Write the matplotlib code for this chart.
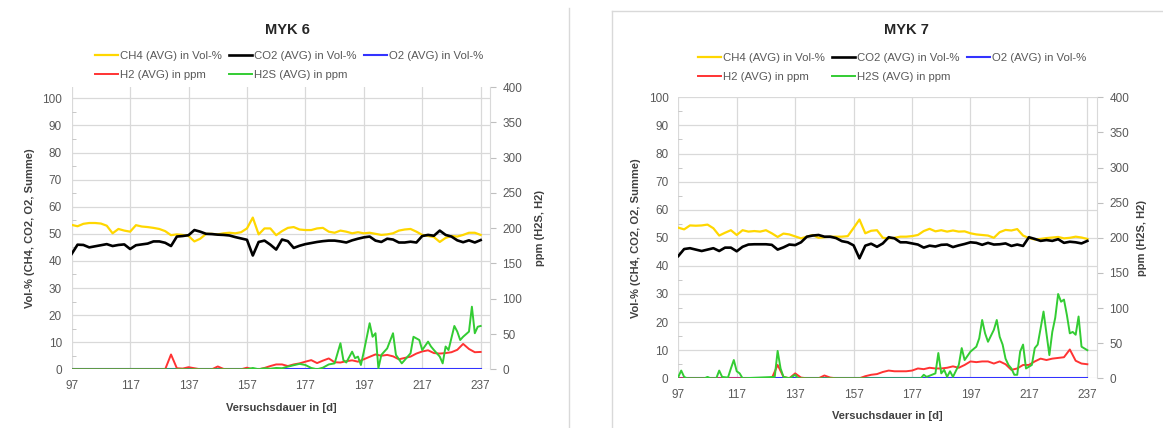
import matplotlib
matplotlib.use("Agg")
import matplotlib.pyplot as plt
from matplotlib.lines import Line2D

W, H = 1163, 428
plt.rcParams['font.family'] = ['Liberation Sans', 'DejaVu Sans']

# ---------------- data ----------------
days = list(range(97, 238, 2))
x_ticks = [97, 117, 137, 157, 177, 197, 217, 237]

series_labels = ["CH4 (AVG) in Vol-%", "CO2 (AVG) in Vol-%", "O2 (AVG) in Vol-%",
                 "H2 (AVG) in ppm", "H2S (AVG) in ppm"]

# MYK 6
myk6_ch4 = [53.3, 52.8, 53.7, 54.0, 54.0, 53.8, 53.0, 50.2, 51.8, 51.2,
            50.8, 53.2, 52.7, 52.5, 52.2, 51.8, 51.0, 49.5, 49.8, 49.6,
            49.2, 47.2, 48.2, 50.0, 50.0, 49.8, 50.2, 50.4, 50.2, 50.6,
            52.0, 56.0, 49.8, 52.0, 52.0, 49.5, 51.0, 52.2, 52.5, 51.6,
            51.4, 51.4, 52.0, 52.2, 50.8, 50.4, 51.2, 50.8, 50.2, 50.6,
            50.2, 50.4, 50.0, 49.6, 49.8, 50.2, 51.2, 51.6, 51.8, 50.8,
            49.6, 49.2, 48.8, 47.0, 48.5, 49.2, 49.0, 49.6, 50.4, 50.4,
            49.6]
myk6_co2 = [42.6, 46.0, 45.9, 45.0, 45.4, 45.8, 46.2, 45.5, 45.9, 46.1,
            44.4, 45.8, 46.1, 46.4, 47.2, 47.2, 46.7, 45.5, 49.0, 49.2,
            49.5, 51.4, 50.8, 50.0, 49.9, 49.7, 49.6, 49.4, 48.8, 48.3,
            47.8, 42.0, 47.0, 47.5, 46.0, 44.2, 47.9, 47.3, 44.8, 45.6,
            46.2, 46.6, 47.0, 47.3, 47.5, 47.5, 47.2, 46.8, 47.6, 48.2,
            48.7, 49.0, 47.5, 47.0, 48.2, 47.9, 46.8, 46.8, 47.1, 46.8,
            49.2, 49.6, 49.3, 51.2, 49.6, 49.0, 47.6, 46.9, 47.6, 46.8,
            47.7]
myk6_o2 = [0.2, 0.2, 0.2, 0.2, 0.2, 0.2, 0.2, 0.2, 0.2, 0.2,
           0.2, 0.2, 0.2, 0.2, 0.2, 0.2, 0.2, 0.2, 0.2, 0.2,
           0.2, 0.2, 0.2, 0.2, 0.2, 0.2, 0.2, 0.2, 0.2, 0.2,
           0.2, 0.2, 0.2, 0.2, 0.2, 0.2, 0.2, 0.2, 0.2, 0.2,
           0.2, 0.2, 0.2, 0.2, 0.2, 0.2, 0.2, 0.2, 0.2, 0.2,
           0.2, 0.2, 0.2, 0.2, 0.2, 0.2, 0.2, 0.2, 0.2, 0.2,
           0.2, 0.2, 0.2, 0.2, 0.2, 0.2, 0.2, 0.2, 0.2, 0.2,
           0.2]
myk6_h2 = [0, 0, 0, 0, 0, 0, 0, 0, 0, 0,
           0, 0, 0, 0, 0, 0, 0, 21, 1.5, 1,
           3, 1.5, 0, 0, 0, 4, 0.5, 0, 0, 0,
           2.3, 0, 0, 1.9, 4.6, 6.9, 6.9, 4.6, 6.9, 8.4,
           10.8, 13, 8.8, 12.3, 15.4, 10, 9.6, 11.5, 12.7, 10.8,
           14.2, 17.7, 21.1, 19.2, 20.4, 18.4, 14.2, 16.1, 18, 22.3,
           25.3, 26.9, 23, 22.3, 23, 24.2, 27.6, 36, 28.8, 24.2,
           24.6]
myk6_h2s_days = [97, 157, 159, 161, 163, 165, 167, 169, 171, 173,
                 175, 177, 179, 181, 183, 185, 187, 189, 190, 191,
                 193, 194, 195, 196, 197, 199, 200, 201, 202, 203,
                 205, 207, 208, 210, 211, 213, 214, 216, 217, 219,
                 220, 221, 223, 224, 225, 226, 228, 229, 230, 231,
                 233, 234, 235, 236, 237]
myk6_h2s = [0, 0, 1.9, 0, 1.5, 0.8, 1.9, 1.5, 3.8, 5.8,
            7.7, 6.1, 1.9, 0, 2.3, 6.9, 8.4, 36.9, 13.1, 9.6,
            25, 15.7, 18, 6.1, 25, 65.3, 46.1, 51.1, 1.5, 20.4,
            29.6, 51.1, 20.4, 8.4, 13.1, 22.7, 46.1, 41.5, 27.3, 39.2,
            32.3, 27.3, 18, 8.4, 32.3, 27.3, 61.4, 53.4, 41.5, 46.1,
            53.4, 88.7, 51.1, 60.3, 61.4]

# MYK 7
myk7_ch4 = [53.6, 53.0, 54.4, 54.3, 54.4, 54.7, 53.4, 50.8, 51.8, 52.7,
            51.0, 52.7, 52.2, 52.4, 52.2, 52.7, 51.6, 50.3, 51.5, 51.2,
            50.5, 49.8, 50.4, 51.0, 50.0, 50.2, 50.4, 50.4, 50.4, 50.6,
            53.5, 56.5, 51.6, 52.5, 52.7, 50.0, 49.8, 50.0, 50.4, 50.4,
            50.6, 51.0, 52.4, 53.2, 52.3, 52.7, 52.2, 52.6, 52.2, 52.3,
            51.6, 51.2, 51.0, 50.8, 50.0, 52.0, 52.8, 52.6, 53.1, 50.8,
            49.9, 49.4, 49.6, 49.9, 50.1, 50.3, 49.8, 50.0, 50.4, 50.1,
            49.6]
myk7_co2 = [43.5, 46.0, 46.3, 45.8, 45.3, 45.8, 46.3, 45.3, 46.5, 46.5,
            45.2, 46.8, 47.6, 47.7, 47.7, 47.7, 47.5, 45.8, 46.6, 47.6,
            47.4, 48.4, 50.4, 50.8, 51.0, 50.4, 50.4, 49.9, 48.8, 48.4,
            47.3, 42.7, 47.2, 47.9, 46.8, 48.0, 50.2, 49.8, 48.4, 48.4,
            48.0, 47.6, 46.5, 47.2, 46.9, 47.5, 47.6, 46.7, 47.3, 47.8,
            48.4, 48.2, 47.5, 48.2, 47.6, 47.7, 48.0, 47.1, 47.6, 47.1,
            50.2, 49.6, 48.9, 49.2, 48.9, 49.5, 48.2, 48.6, 48.4, 48.0,
            48.9]
myk7_o2 = [0.2, 0.2, 0.2, 0.2, 0.2, 0.2, 0.2, 0.2, 0.2, 0.2,
           0.2, 0.2, 0.2, 0.2, 0.2, 0.2, 0.2, 0.2, 0.2, 0.2,
           0.2, 0.2, 0.2, 0.2, 0.2, 0.2, 0.2, 0.2, 0.2, 0.2,
           0.2, 0.2, 0.2, 0.2, 0.2, 0.2, 0.2, 0.2, 0.2, 0.2,
           0.2, 0.2, 0.2, 0.2, 0.2, 0.2, 0.2, 0.2, 0.2, 0.2,
           0.2, 0.2, 0.2, 0.2, 0.2, 0.2, 0.2, 0.2, 0.2, 0.2,
           0.2, 0.2, 0.2, 0.2, 0.2, 0.2, 0.2, 0.2, 0.2, 0.2,
           0.2]
myk7_h2 = [0, 0, 0, 0, 0, 0, 0, 0, 0, 0,
           0, 0, 0, 0, 0, 0, 0, 19, 2, 0,
           7, 1, 0, 0, 0, 4, 1, 0, 0, 0,
           0, 0, 3, 5, 6, 9, 11, 10, 10, 10,
           11, 14, 13, 15, 14, 14, 15, 17, 15, 19,
           24, 23, 24, 24, 21, 24, 20, 12, 14, 19,
           19, 24, 28, 26, 28, 29, 30, 41, 25, 21,
           20]
myk7_h2s_days = [97, 98, 99, 100, 106, 107, 108, 110, 111, 112,
                 114, 115, 116, 117, 118, 119, 130, 131, 132, 133,
                 135, 137, 138, 180, 181, 182, 185, 186, 187, 188,
                 189, 190, 191, 193, 194, 195, 197, 199, 200, 201,
                 202, 203, 205, 206, 207, 208, 209, 210, 211, 212,
                 213, 214, 215, 216, 218, 219, 220, 221, 222, 223,
                 224, 225, 226, 227, 228, 229, 230, 231, 232, 233,
                 234, 235, 237]
myk7_h2s = [2, 11, 2, 0, 0, 2, 0, 0, 11, 2,
            1, 14, 26, 10, 7, 0, 2, 39, 14, 2,
            0, 5, 0, 0, 5, 2, 7, 36, 7, 12,
            2, 10, 2, 19, 43, 26, 38, 45, 57, 83,
            64, 52, 69, 83, 59, 48, 28, 19, 14, 5,
            5, 38, 48, 14, 19, 43, 48, 71, 95, 64,
            33, 66, 86, 120, 109, 112, 90, 64, 66, 62,
            88, 45, 40]

colors = ['#FFD700', '#000000', '#3333FF', '#FF3333', '#33CC33']
widths = [1.6, 1.9, 1.5, 1.4, 1.4]

GRID = '#D9D9D9'
TICKC = '#595959'

fig = plt.figure(figsize=(W / 100, H / 100), dpi=100)


def fx(px):
    return px / W


def fy(py):
    return 1 - py / H


def panel(box, ylim_left, title, title_xy, leg_xy, xlabel_xy, ylab_x, rlab_x,
          ch4, co2, o2, h2, h2s_days, h2s):
    l, t, r, b = box
    ax = fig.add_axes([fx(l), fy(b), (r - l) / W, (b - t) / H])
    ax2 = ax.twinx()
    ax.set_xlim(97, 240.2)
    ax.set_ylim(0, ylim_left)
    ax2.set_ylim(0, 400)
    ax.set_xticks(x_ticks)
    ax.set_yticks(range(0, 101, 10))
    ax.set_yticks(range(5, 100, 10), minor=True)
    ax2.set_yticks(range(0, 401, 50))
    ax.grid(True, color=GRID, linewidth=0.9)
    ax.set_axisbelow(True)
    for s in ax.spines.values():
        s.set_visible(False)
    for s in ax2.spines.values():
        s.set_visible(False)
    ax2.spines['right'].set_visible(True)
    ax2.spines['right'].set_color(GRID)
    ax.tick_params(axis='x', length=0, pad=8, labelsize=8.5, labelcolor=TICKC)
    ax.tick_params(axis='y', which='major', length=0, pad=7, labelsize=8.5, labelcolor=TICKC)
    ax.tick_params(axis='y', which='minor', direction='in', length=3, color='#BFBFBF')
    ax2.tick_params(axis='y', length=4, color='#BFBFBF', pad=5, labelsize=8.5, labelcolor=TICKC)

    l1, = ax.plot(days, ch4, color=colors[0], lw=widths[0], label=series_labels[0])
    l2, = ax.plot(days, co2, color=colors[1], lw=widths[1], label=series_labels[1])
    l3, = ax.plot(days, o2, color=colors[2], lw=widths[2], label=series_labels[2])
    l4, = ax2.plot(days, h2, color=colors[3], lw=widths[3], label=series_labels[3])
    l5, = ax2.plot(h2s_days, h2s, color=colors[4], lw=widths[4], label=series_labels[4])

    handles = [l1, l4, l2, l5, l3]
    fig.legend(handles, [h.get_label() for h in handles], loc='upper left',
               bbox_to_anchor=(fx(leg_xy[0]), fy(leg_xy[1])), ncol=3, frameon=False,
               fontsize=8.2, handlelength=2.0, handletextpad=0.2, columnspacing=0.65,
               borderpad=0, borderaxespad=0, labelspacing=0.75, labelcolor='#595959')

    fig.text(fx(title_xy[0]), fy(title_xy[1]), title, ha='center', va='center',
             fontsize=10.5, fontweight='bold', color='#262626')
    fig.text(fx(xlabel_xy[0]), fy(xlabel_xy[1]), "Versuchsdauer in [d]", ha='center',
             va='center', fontsize=8, fontweight='bold', color='#404040')
    ymid = (t + b) / 2
    fig.text(fx(ylab_x), fy(ymid), "Vol-% (CH4, CO2, O2, Summe)", rotation=90,
             ha='center', va='center', fontsize=8, fontweight='bold', color='#404040')
    fig.text(fx(rlab_x), fy(ymid), "ppm (H2S, H2)", rotation=90,
             ha='center', va='center', fontsize=8, fontweight='bold', color='#404040')
    return ax


panel((71.7, 87, 490, 369.3), 104.2, "MYK 6", (287, 30), (95, 51), (281, 408), 30, 540,
      myk6_ch4, myk6_co2, myk6_o2, myk6_h2, myk6_h2s_days, myk6_h2s)
panel((678.3, 97.3, 1096.7, 378.3), 100, "MYK 7", (906, 30), (698, 53), (887, 416), 636, 1142,
      myk7_ch4, myk7_co2, myk7_o2, myk7_h2, myk7_h2s_days, myk7_h2s)

# panel frames
fig.add_artist(Line2D([fx(569), fx(569)], [fy(8), fy(428)], color='#D9D9D9', lw=1))
fig.add_artist(Line2D([fx(612), fx(612)], [fy(11), fy(428)], color='#D9D9D9', lw=1))
fig.add_artist(Line2D([fx(612), fx(1163)], [fy(11), fy(11)], color='#D9D9D9', lw=1))

fig.savefig('out.png', dpi=100)
